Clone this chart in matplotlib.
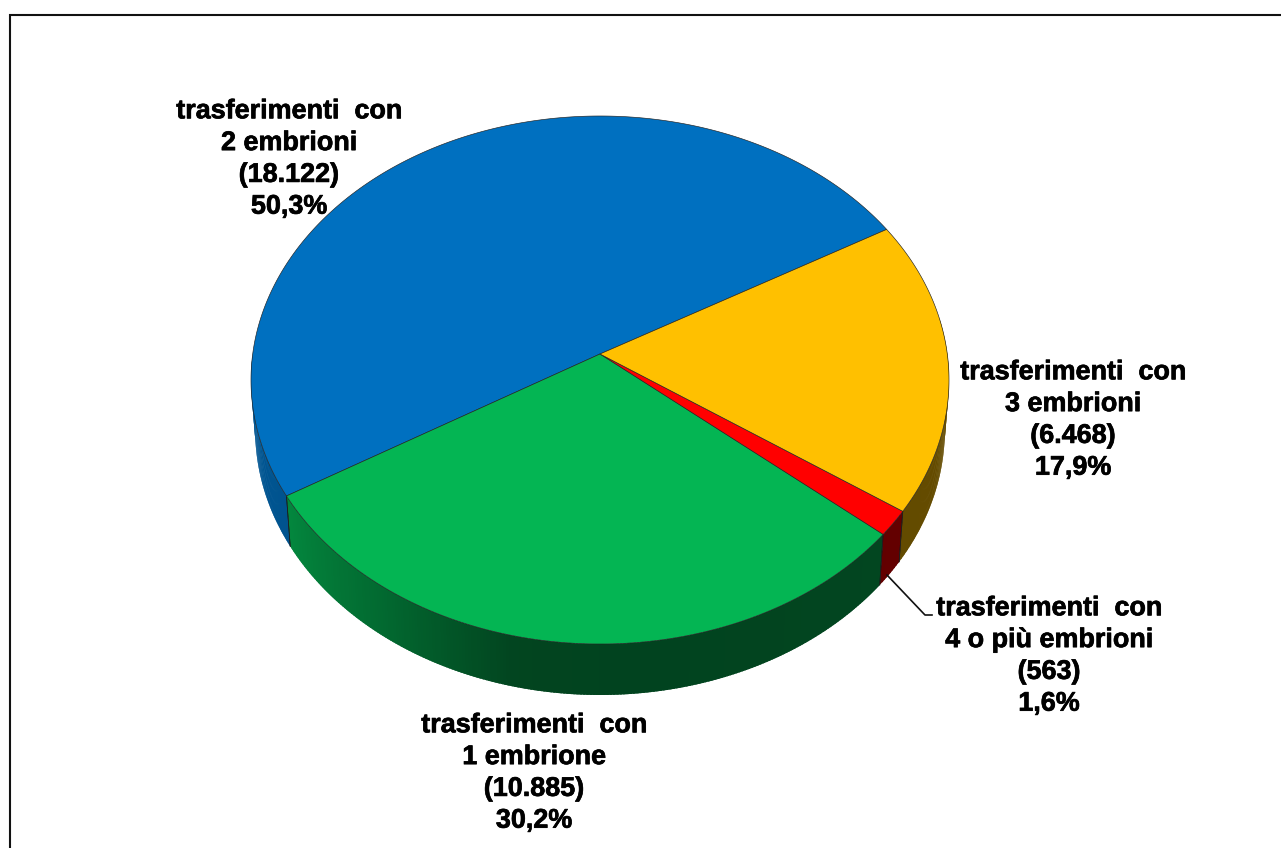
import numpy as np
import matplotlib
matplotlib.use("Agg")
import matplotlib.pyplot as plt
import matplotlib.patheffects as pe

W, H = 1281, 848

# ---- data ----
categories = ["trasferimenti  con\n2 embrioni", "trasferimenti  con\n1 embrione",
              "trasferimenti  con\n4 o più embrioni", "trasferimenti  con\n3 embrioni"]
counts = [18122, 10885, 563, 6468]
count_labels = ["18.122", "10.885", "563", "6.468"]
pct_labels = ["50,3%", "30,2%", "1,6%", "17,9%"]
colors = ["#0070C0", "#04B553", "#FF0000", "#FFC000"]

# ---- projection of the tilted disc ----
CX, CY, RX, RY = 600.0, 380.0, 349.0, 264.0
APEX_OFF = 26.0
DEPTH = 51.0
START = 30.0
c = APEX_OFF / RY
d = RX * np.sqrt(1 - c ** 2)


def project(theta_deg, r=1.0, depth=0.0):
    t = np.radians(theta_deg)
    u, v = r * np.cos(t), r * np.sin(t)
    w = 1 + c * v
    x = CX + d * u / w
    y = CY - (RY * v + APEX_OFF) / w
    s = 1 - 0.012 * depth / DEPTH
    return CX + (x - CX) * s, y + depth * (0.96 + 0.04 * (1 - v) / 2)


def shade(hex_color, theta):
    """Wall brightness: light at the left of the disc, dark from the bottom onward."""
    rgb = np.array(matplotlib.colors.to_rgb(hex_color))
    f = np.interp(theta % 360, [180, 212, 235, 257, 275, 360],
                  [0.78, 0.74, 0.58, 0.38, 0.37, 0.40])
    return tuple(rgb * f)


fig = plt.figure(figsize=(W / 100, H / 100), dpi=100)
ax = fig.add_axes([0, 0, 1, 1])
ax.set_xlim(0, W)
ax.set_ylim(H, 0)
ax.axis("off")

fracs = np.array(counts, dtype=float) / sum(counts)
edges = START + np.concatenate([[0], np.cumsum(fracs) * 360])

# side walls (front half only), overlapping strips for the gradient
for i, col in enumerate(colors):
    a0, a1 = edges[i], edges[i + 1]
    lo, hi = max(a0, 180.0), a1
    if i == 3:
        hi = 368.0
    if hi <= lo:
        continue
    steps = np.linspace(lo, hi, max(int(hi - lo) * 2, 2) + 1)
    for s0, s1 in zip(steps[:-1], steps[1:]):
        s1x = min(s1 + 0.4, hi)
        xt, yt = project(np.array([s0, s1x]))
        xb, yb = project(np.array([s1x, s0]), depth=DEPTH)
        ax.fill(np.r_[xt, xb], np.r_[yt, yb], color=shade(col, (s0 + s1) / 2),
                lw=0, zorder=2)
    for a in (a0, a1):
        if lo <= a <= hi:
            xs0, ys0 = project(a)
            xs1, ys1 = project(a, depth=DEPTH)
            ax.plot([xs0, xs1], [ys0, ys1], color="#1a1a1a", lw=0.5, zorder=3)

# top faces
for i, col in enumerate(colors):
    th = np.linspace(edges[i], edges[i + 1], 400)
    x, y = project(th)
    ax_, ay_ = project(0.0, r=0.0)
    ax.fill(np.r_[ax_, x], np.r_[ay_, y], facecolor=col, edgecolor="#222222",
            lw=0.45, joinstyle="round", zorder=4)

# frame (only left and top edges are visible)
ax.plot([10, 10, W], [H, 14.5, 14.5], color="#111111", lw=1.5,
        solid_joinstyle="miter", zorder=5)

# leader for the small slice
ax.plot([887, 925, 932], [575, 615, 615], color="#111111", lw=1.2, zorder=5)

# labels
label_pos = [(289, 159), (534, 773), (1049, 656), (1073, 420)]
for name, cnt, pct, (lx, ly) in zip(categories, count_labels, pct_labels, label_pos):
    ax.text(lx, ly, f"{name}\n({cnt})\n{pct}", ha="center", va="center",
            family="Liberation Sans", weight="bold", fontsize=19.4, color="black",
            linespacing=1.29, zorder=6,
            path_effects=[pe.withStroke(linewidth=0.5, foreground="black")])

fig.savefig("out.png", dpi=100, facecolor="white")
